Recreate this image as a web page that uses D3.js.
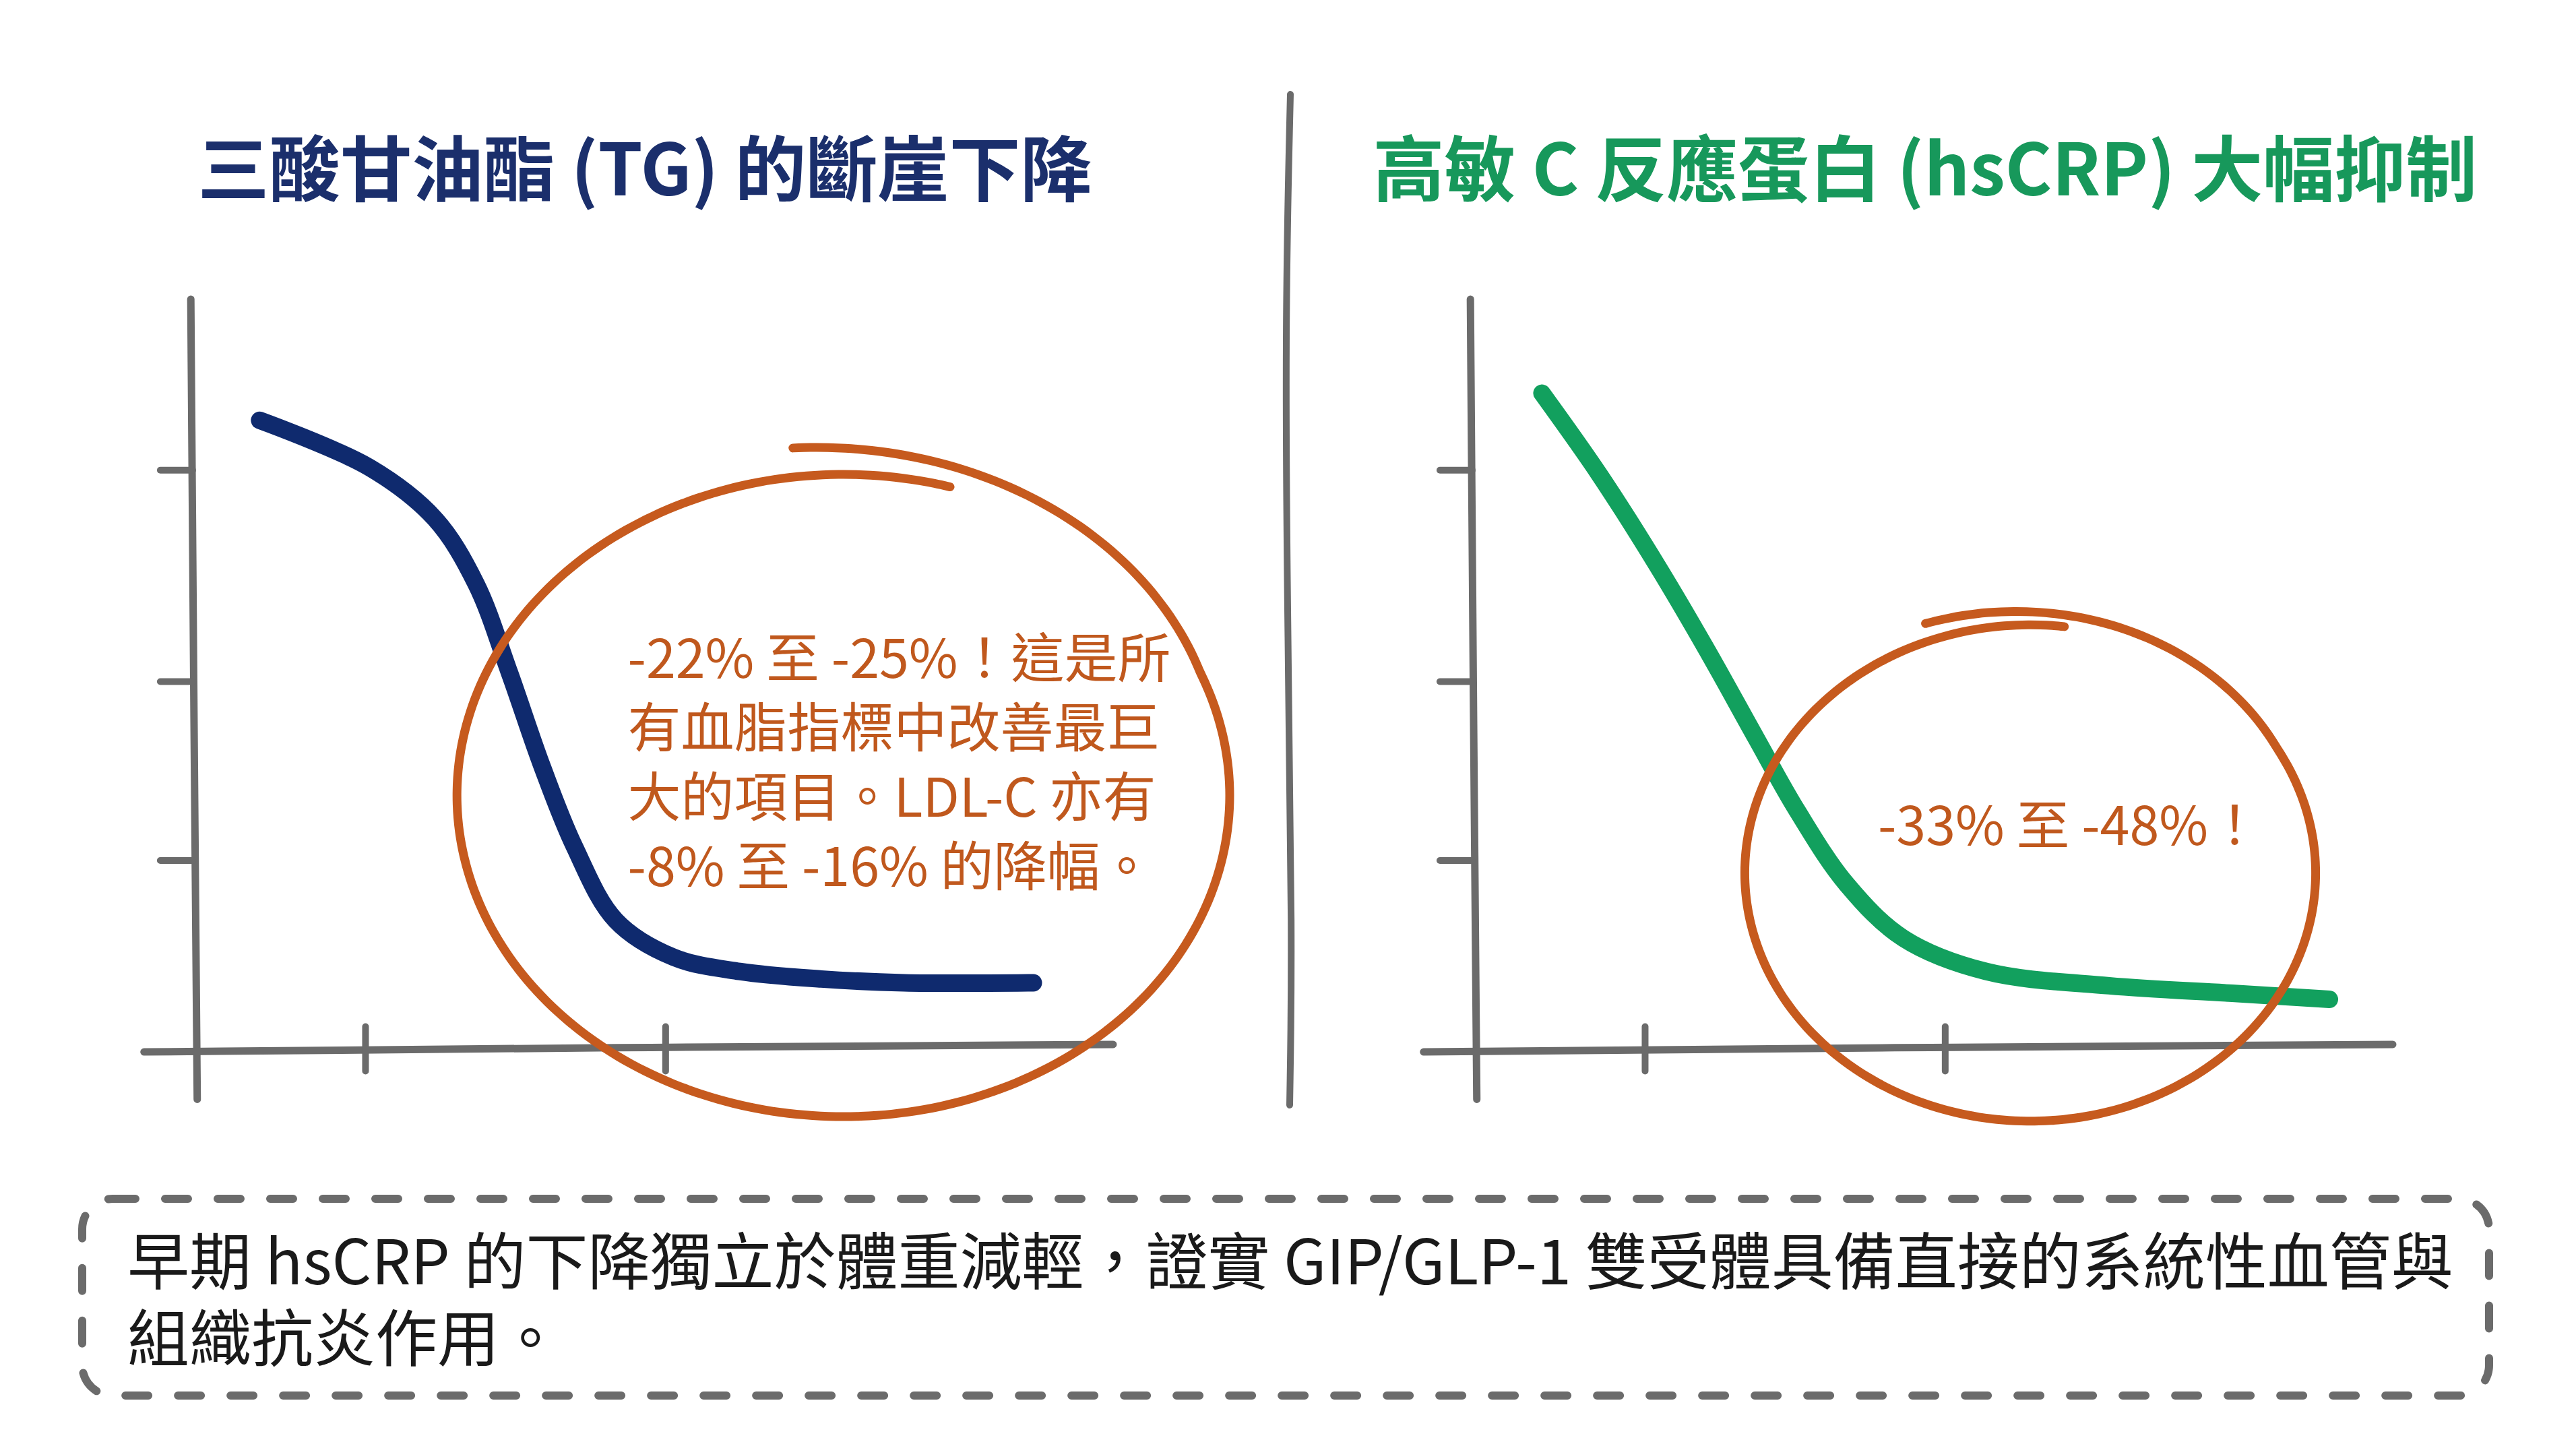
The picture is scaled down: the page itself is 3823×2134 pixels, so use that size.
<!DOCTYPE html>
<html>
<head>
<meta charset="utf-8">
<script src="https://cdn.jsdelivr.net/npm/d3@7"></script>
<style>
  html, body { margin: 0; padding: 0; background: #ffffff; }
  svg { display: block; }
</style>
</head>
<body>
<svg id="chart"></svg>
<script>
// ---- data (arbitrary 0-100 units) ----
const tgX = [7.0, 19.0, 26.1, 30.6, 34.2, 37.8, 41.3, 45.8, 52.1, 59.3, 68.2, 77.2, 91.3];
const tgY = [83.9, 77.6, 70.8, 62.1, 50.4, 37.8, 27.2, 17.4, 12.5, 10.6, 9.6, 9.1, 9.1];
const crpX = [7.3, 13.6, 19.9, 25.3, 30.6, 35.1, 40.5, 46.7, 55.7, 69.1, 82.5, 93.1];
const crpY = [87.5, 76.6, 64.5, 53.3, 41.7, 32.0, 22.2, 15.0, 10.6, 8.7, 7.7, 6.9];

const xTicks = [18.5, 51.2];
const yTicks = [25.4, 49.2, 77.3];

const titles = ["三酸甘油酯 (TG) 的斷崖下降", "高敏 C 反應蛋白 (hsCRP) 大幅抑制"];
const tgNote = ["-22% 至 -25%！這是所", "有血脂指標中改善最巨", "大的項目。LDL-C 亦有", "-8% 至 -16% 的降幅。"];
const crpNote = ["-33% 至 -48%！"];
const footerLines = [
  "早期 hsCRP 的下降獨立於體重減輕，證實 GIP/GLP-1 雙受體具備直接的系統性血管與",
  "組織抗炎作用。"
];

// ---- canvas ----
const W = 3823, H = 2134;
const svg = d3.select("#chart").attr("width", W).attr("height", H);
svg.append("rect").attr("width", W).attr("height", H).attr("fill", "#ffffff");

const FONT = "'Noto Sans CJK TC', 'Noto Sans', sans-serif";
const AXIS = "#6b6b6b";
const ORANGE = "#c65a1e";

const x = d3.scaleLinear().domain([0, 100]).range([0, 1362]);
const y = d3.scaleLinear().domain([0, 100]).range([1560, 444]);

const line = d3.line()
  .x(d => x(d[0])).y(d => y(d[1]))
  .curve(d3.curveCatmullRom.alpha(0.5));

// hand drawn loop: goes round a bit more than once, first part sits outside
function loopPoints(c) {
  const pts = [];
  const n = 160;
  for (let i = 0; i <= n; i++) {
    const t = c.t0 + (c.t1 - c.t0) * i / n;
    const k = 1 + c.bulge * Math.max(0, 1 - (t - c.t0) / c.spread);
    pts.push([x(c.cx) + x(c.rx) * k * Math.cos(t), y(c.cy) + (y(0) - y(c.ry)) * k * Math.sin(t)]);
  }
  return pts;
}

const panels = [
  {
    offset: 290, title: titles[0], titleX: 957, titleColor: "#1b2f6c",
    xs: tgX, ys: tgY, color: "#0f2a6e",
    loop: { cx: 70.6, cy: 34.0, rx: 42.1, ry: 42.7, t0: -Math.PI / 2 - 0.12, t1: -Math.PI / 2 + 2 * Math.PI + 0.28, bulge: 0.09, spread: 1.3 },
    note: tgNote, noteX: 47.1, noteY: 49.6
  },
  {
    offset: 2189, title: titles[1], titleX: 2857, titleColor: "#17985b",
    xs: crpX, ys: crpY, color: "#12a05e",
    loop: { cx: 60.5, cy: 23.7, rx: 31.1, ry: 33.0, t0: -Math.PI / 2 - 0.35, t1: -Math.PI / 2 + 2 * Math.PI + 0.12, bulge: 0.07, spread: 1.4 },
    note: crpNote, noteX: 43.9, noteY: 27.4
  }
];

panels.forEach(p => {
  // title, centred over its half
  svg.append("text")
    .attr("x", p.titleX).attr("y", 290)
    .attr("text-anchor", "middle")
    .attr("font-family", FONT).attr("font-weight", 700).attr("font-size", 106)
    .attr("fill", p.titleColor)
    .text(p.title);

  const g = svg.append("g").attr("transform", `translate(${p.offset},0)`);

  // axes (slightly uneven like a marker sketch)
  g.append("path")
    .attr("d", d3.line().curve(d3.curveBasis)([[x(-0.5), y(100)], [x(-0.2), y(50)], [x(0.2), y(-6.4)]]))
    .attr("fill", "none").attr("stroke", AXIS).attr("stroke-width", 11).attr("stroke-linecap", "round");
  g.append("path")
    .attr("d", d3.line().curve(d3.curveBasis)([[x(-5.6), y(-0.1)], [x(45), y(0.5)], [x(100), y(0.9)]]))
    .attr("fill", "none").attr("stroke", AXIS).attr("stroke-width", 11).attr("stroke-linecap", "round");

  const yAxis = g.append("g").attr("transform", `translate(${x(-0.3)},0)`)
    .call(d3.axisLeft(y).tickValues(yTicks).tickSize(48).tickFormat(""));
  yAxis.select(".domain").remove();
  yAxis.selectAll(".tick line").attr("stroke", AXIS).attr("stroke-width", 10).attr("stroke-linecap", "round");

  const xAxis = g.append("g").attr("transform", `translate(0,${y(0.4)})`)
    .call(d3.axisBottom(x).tickValues(xTicks).tickSize(34).tickFormat(""));
  xAxis.select(".domain").remove();
  xAxis.selectAll(".tick line").attr("y1", -32).attr("stroke", AXIS).attr("stroke-width", 10).attr("stroke-linecap", "round");

  // series curve
  g.append("path")
    .datum(d3.zip(p.xs, p.ys))
    .attr("d", line)
    .attr("fill", "none").attr("stroke", p.color).attr("stroke-width", 26)
    .attr("stroke-linecap", "round").attr("stroke-linejoin", "round");

  // highlight loop
  g.append("path")
    .attr("d", d3.line().curve(d3.curveCatmullRom)(loopPoints(p.loop)))
    .attr("fill", "none").attr("stroke", ORANGE).attr("stroke-width", 13)
    .attr("stroke-linecap", "round");

  // note text
  g.append("g").selectAll("text").data(p.note).join("text")
    .attr("x", x(p.noteX))
    .attr("y", (d, i) => y(p.noteY) + i * 103)
    .attr("font-family", FONT).attr("font-size", 79).attr("font-weight", 400)
    .attr("fill", "#c0581d")
    .text(d => d);
});

// divider between the panels
svg.append("path")
  .attr("d", d3.line().curve(d3.curveBasis)([[1915, 140], [1907, 480], [1911, 950], [1918, 1400], [1914, 1640]]))
  .attr("fill", "none").attr("stroke", AXIS).attr("stroke-width", 10).attr("stroke-linecap", "round");

// footer box
svg.append("rect")
  .attr("x", 122).attr("y", 1779).attr("width", 3572).attr("height", 292)
  .attr("rx", 45).attr("ry", 45)
  .attr("fill", "none").attr("stroke", "#6b6b6b").attr("stroke-width", 12)
  .attr("stroke-dasharray", "34 44").attr("stroke-linecap", "round");

svg.append("g").selectAll("text").data(footerLines).join("text")
  .attr("x", 189)
  .attr("y", (d, i) => 1906 + i * 114)
  .attr("font-family", FONT).attr("font-size", 92).attr("font-weight", 400)
  .attr("fill", "#1a1a1a")
  .text(d => d);
</script>
</body>
</html>
